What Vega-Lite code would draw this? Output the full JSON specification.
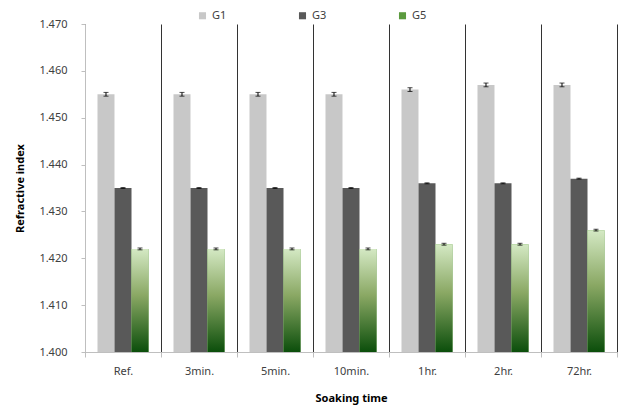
{
  "$schema": "https://vega.github.io/schema/vega-lite/v6.json",
  "width": 532,
  "height": 328,
  "autosize": {"type": "none"},
  "padding": {"left": 85, "top": 24, "right": 5, "bottom": 55},
  "background": "white",
  "config": {"font": "Noto Sans", "view": {"stroke": null}},
  "data": {
    "values": [
      {"time": "Ref.", "group": "G1", "value": 1.455, "lo": 1.4546, "hi": 1.4554},
      {"time": "Ref.", "group": "G3", "value": 1.435, "lo": 1.4349, "hi": 1.4351},
      {"time": "Ref.", "group": "G5", "value": 1.422, "lo": 1.4218, "hi": 1.4222},
      {"time": "3min.", "group": "G1", "value": 1.455, "lo": 1.4546, "hi": 1.4554},
      {"time": "3min.", "group": "G3", "value": 1.435, "lo": 1.4349, "hi": 1.4351},
      {"time": "3min.", "group": "G5", "value": 1.422, "lo": 1.4218, "hi": 1.4222},
      {"time": "5min.", "group": "G1", "value": 1.455, "lo": 1.4546, "hi": 1.4554},
      {"time": "5min.", "group": "G3", "value": 1.435, "lo": 1.4349, "hi": 1.4351},
      {"time": "5min.", "group": "G5", "value": 1.422, "lo": 1.4218, "hi": 1.4222},
      {"time": "10min.", "group": "G1", "value": 1.455, "lo": 1.4546, "hi": 1.4554},
      {"time": "10min.", "group": "G3", "value": 1.435, "lo": 1.4349, "hi": 1.4351},
      {"time": "10min.", "group": "G5", "value": 1.422, "lo": 1.4218, "hi": 1.4222},
      {"time": "1hr.", "group": "G1", "value": 1.456, "lo": 1.4556, "hi": 1.4564},
      {"time": "1hr.", "group": "G3", "value": 1.436, "lo": 1.4359, "hi": 1.4361},
      {"time": "1hr.", "group": "G5", "value": 1.423, "lo": 1.4228, "hi": 1.4232},
      {"time": "2hr.", "group": "G1", "value": 1.457, "lo": 1.4566, "hi": 1.4574},
      {"time": "2hr.", "group": "G3", "value": 1.436, "lo": 1.4359, "hi": 1.4361},
      {"time": "2hr.", "group": "G5", "value": 1.423, "lo": 1.4228, "hi": 1.4232},
      {"time": "72hr.", "group": "G1", "value": 1.457, "lo": 1.4566, "hi": 1.4574},
      {"time": "72hr.", "group": "G3", "value": 1.437, "lo": 1.4369, "hi": 1.4371},
      {"time": "72hr.", "group": "G5", "value": 1.426, "lo": 1.4258, "hi": 1.4262}
    ]
  },
  "encoding": {
    "x": {
      "field": "time",
      "type": "nominal",
      "sort": ["Ref.", "3min.", "5min.", "10min.", "1hr.", "2hr.", "72hr."],
      "scale": {"paddingInner": 0, "paddingOuter": 0},
      "axis": {
        "title": "Soaking time",
        "titleFontWeight": "bold",
        "titleFontSize": 11,
        "titleColor": "#000000",
        "titlePadding": 16,
        "labelAngle": 0,
        "labelFontSize": 11,
        "labelColor": "#404040",
        "labelPadding": 8,
        "tickBand": "extent",
        "grid": true,
        "gridColor": "#333333",
        "gridWidth": 1,
        "domainColor": "#bfbfbf",
        "tickColor": "#bfbfbf",
        "tickSize": 5
      }
    },
    "xOffset": {
      "field": "group",
      "type": "nominal",
      "sort": ["G1", "G3", "G5"],
      "scale": {"domain": ["G1", "G3", "G5"], "paddingInner": 0, "paddingOuter": 0.735}
    }
  },
  "layer": [
    {
      "mark": {"type": "bar"},
      "encoding": {
        "y": {
          "field": "value",
          "type": "quantitative",
          "scale": {"domain": [1.4, 1.47], "zero": false, "nice": false},
          "axis": {
            "title": "Refractive index",
            "titleFontWeight": "bold",
            "titleFontSize": 11,
            "titleColor": "#000000",
            "titlePadding": 13,
            "values": [1.4, 1.41, 1.42, 1.43, 1.44, 1.45, 1.46, 1.47],
            "format": ".3f",
            "labelFontSize": 11,
            "labelColor": "#404040",
            "labelPadding": 14,
            "grid": false,
            "domainColor": "#bfbfbf",
            "tickColor": "#bfbfbf",
            "tickSize": 4
          }
        },
        "y2": {"datum": 1.4},
        "color": {
          "field": "group",
          "type": "nominal",
          "sort": ["G1", "G3", "G5"],
          "scale": {
            "domain": ["G1", "G3", "G5"],
            "range": ["#c8c8c8", "#595959", "#5b9a3e"]
          },
          "legend": {
            "title": null,
            "orient": "none",
            "direction": "horizontal",
            "legendX": 112,
            "legendY": -14,
            "symbolType": "square",
            "symbolSize": 50,
            "symbolStrokeWidth": 0,
            "labelFontSize": 11,
            "labelColor": "#404040",
            "labelOffset": 4,
            "columnPadding": 70,
            "gridAlign": "all"
          }
        }
      }
    },
    {
      "transform": [{"filter": "datum.group === 'G5'"}],
      "mark": {
        "type": "bar",
        "fill": {"gradient": "linear", "x1": 0, "y1": 0, "x2": 0, "y2": 1,
          "stops": [
            {"offset": 0, "color": "#d4e9c4"},
            {"offset": 0.45, "color": "#8aa864"},
            {"offset": 1, "color": "#0b4e0b"}
          ]}
      },
      "encoding": {
        "y": {"field": "value", "type": "quantitative"},
        "y2": {"datum": 1.4}
      }
    },
    {
      "mark": {"type": "rule", "color": "#000000", "strokeWidth": 1},
      "encoding": {
        "y": {"field": "lo", "type": "quantitative"},
        "y2": {"field": "hi"}
      }
    },
    {
      "mark": {"type": "tick", "color": "#000000", "size": 5, "thickness": 1, "orient": "horizontal"},
      "encoding": {"y": {"field": "lo", "type": "quantitative"}}
    },
    {
      "mark": {"type": "tick", "color": "#000000", "size": 5, "thickness": 1, "orient": "horizontal"},
      "encoding": {"y": {"field": "hi", "type": "quantitative"}}
    }
  ]
}
